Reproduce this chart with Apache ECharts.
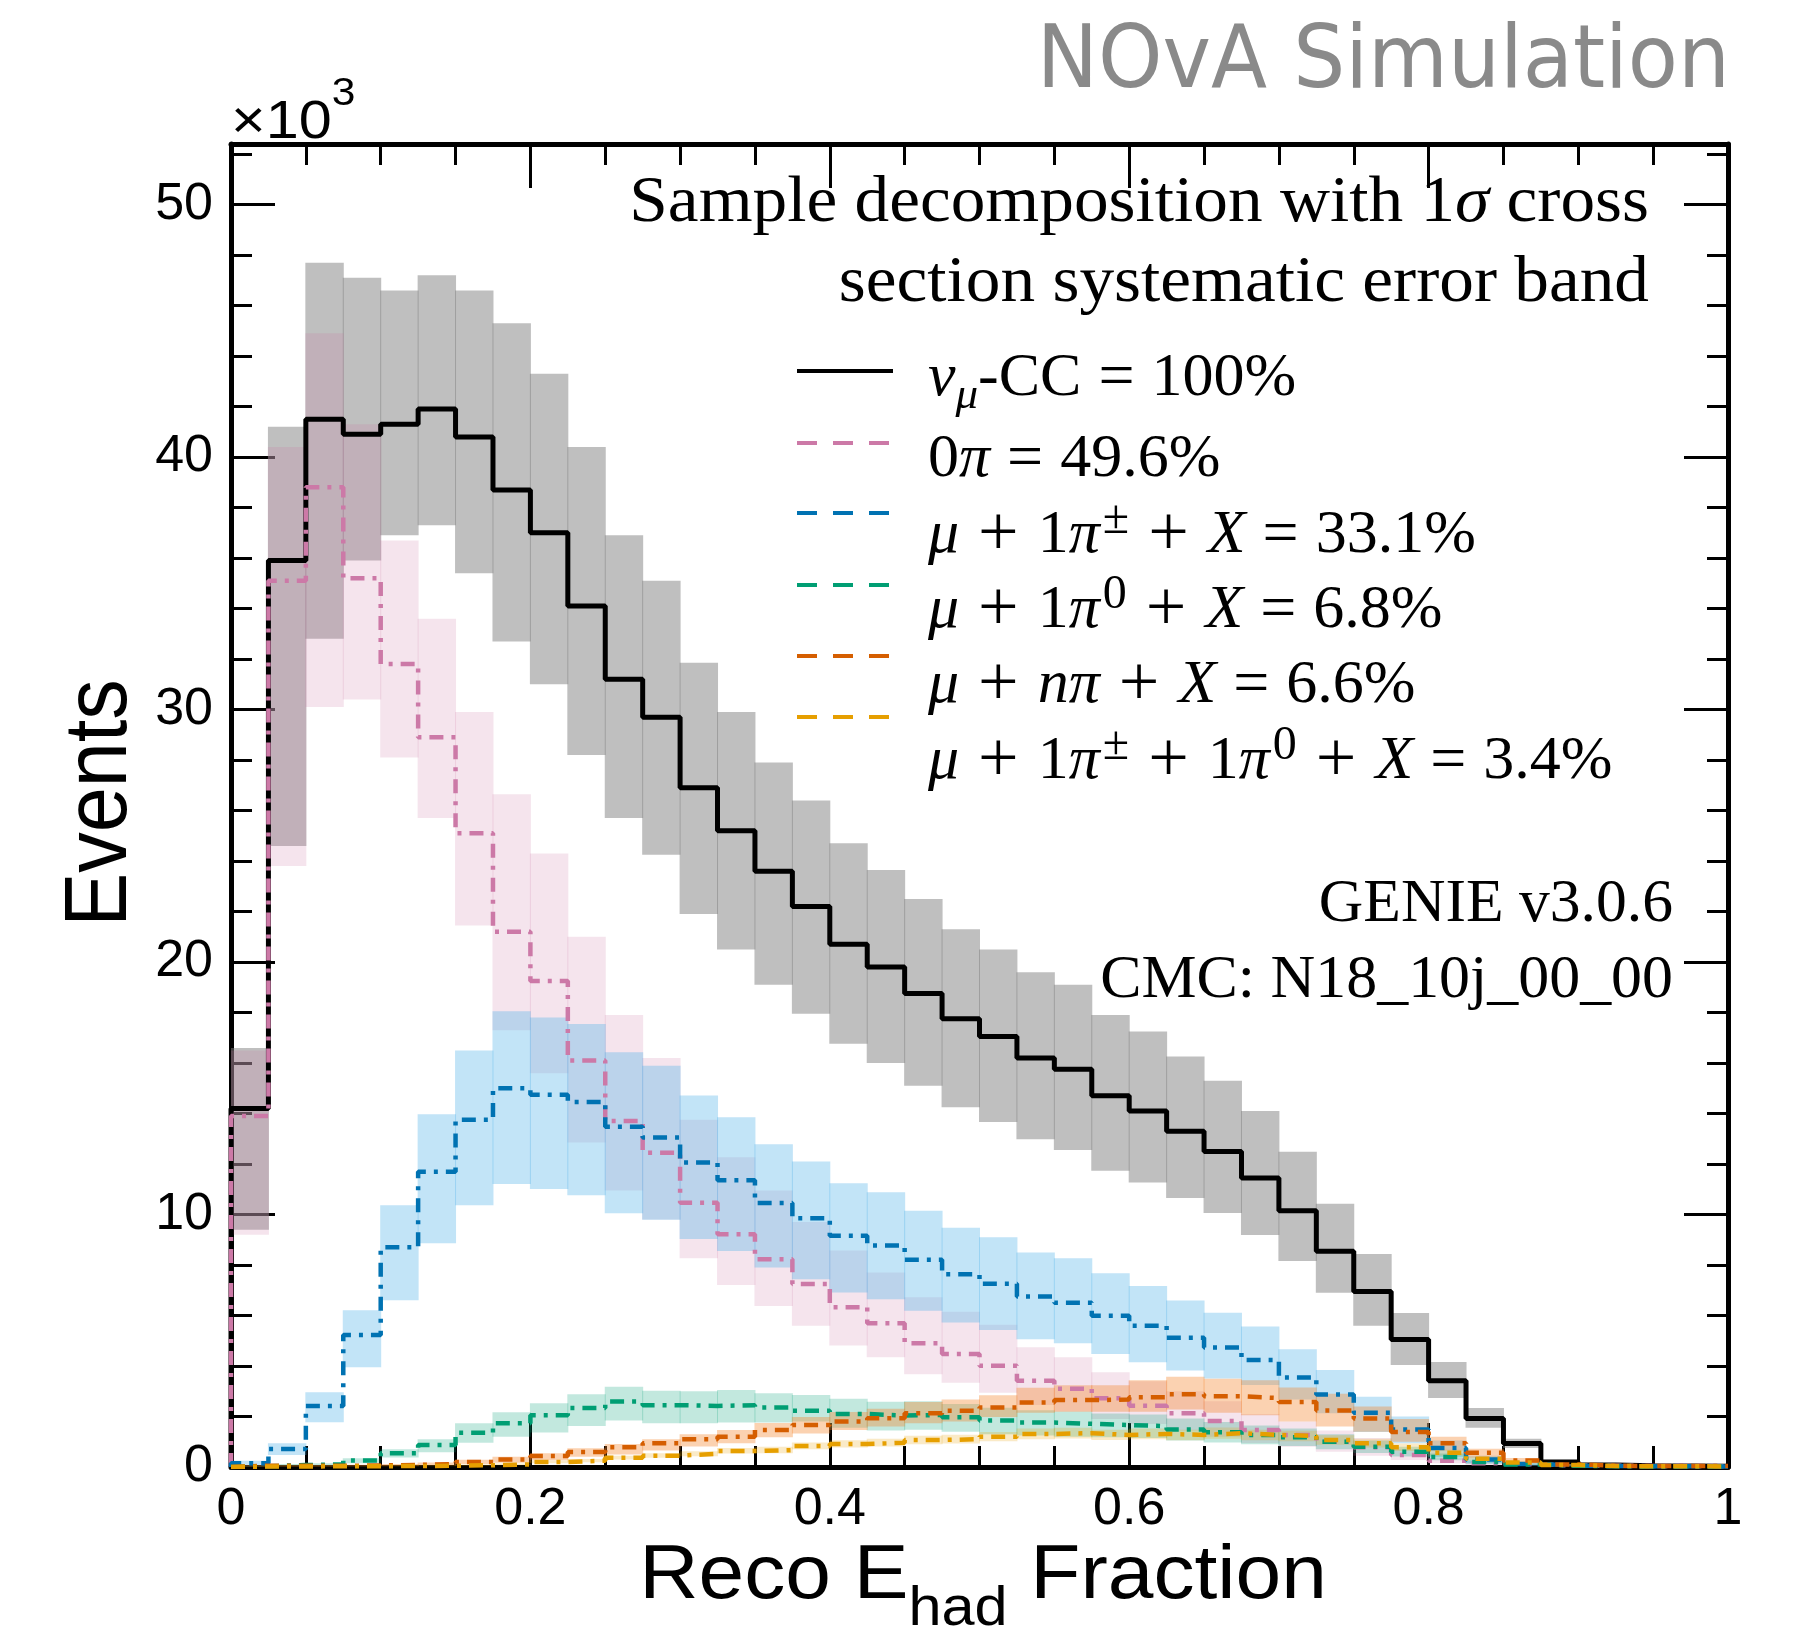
<!DOCTYPE html>
<html>
<head>
<meta charset="utf-8">
<script src="https://cdn.jsdelivr.net/npm/echarts@6/dist/echarts.min.js"></script>
<style>
  html, body { margin: 0; padding: 0; background: #fff; }
  #chart { width: 1805px; height: 1637px; }
</style>
</head>
<body>
<div id="chart"></div>
<script>
// 40 bins of width 0.025 on [0, 1], values in 10^3 events
var binWidth = 0.025;

// nu_mu CC total and its 1 sigma band
var totalVals = [14.2, 35.9, 41.5, 40.9, 41.3, 41.9, 40.8, 38.7, 37.0, 34.1, 31.2, 29.7, 26.9, 25.2, 23.6, 22.2, 20.7, 19.8, 18.75, 17.75, 17.05, 16.2, 15.75, 14.7, 14.1, 13.3, 12.5, 11.45, 10.15, 8.55, 6.95, 5.05, 3.42, 1.92, 0.93, 0.2, 0.08, 0.05, 0.04, 0.03];
var totalLo = [9.4, 24.6, 32.8, 35.9, 36.9, 37.3, 35.4, 32.7, 31.0, 28.2, 25.7, 24.25, 21.9, 20.5, 19.1, 17.95, 16.76, 16.0, 15.1, 14.25, 13.66, 12.98, 12.56, 11.73, 11.27, 10.65, 10.06, 9.19, 8.16, 6.9, 5.59, 4.04, 2.73, 1.55, 0.75, 0.15, 0.06, 0.03, 0.02, 0.02];
var totalHi = [16.6, 41.2, 47.7, 47.1, 46.6, 47.2, 46.6, 45.3, 43.3, 40.4, 36.9, 35.1, 31.85, 29.9, 27.9, 26.4, 24.7, 23.65, 22.5, 21.3, 20.5, 19.6, 19.1, 17.9, 17.25, 16.26, 15.3, 14.1, 12.49, 10.43, 8.44, 6.1, 4.16, 2.34, 1.12, 0.27, 0.1, 0.07, 0.06, 0.05];

// 0 pi
var zeroPiVals = [13.9, 35.1, 38.8, 35.2, 31.8, 28.9, 25.1, 21.2, 19.25, 16.1, 13.7, 12.45, 10.47, 9.22, 8.23, 7.25, 6.33, 5.69, 4.9, 4.48, 4.01, 3.42, 3.1, 2.72, 2.43, 2.13, 1.82, 1.47, 1.27, 1.0, 0.78, 0.48, 0.25, 0.15, 0.1, 0.06, 0.05, 0.04, 0.04, 0.03];
var zeroPiLo = [9.2, 23.8, 30.1, 30.4, 28.1, 25.7, 21.45, 17.3, 15.6, 12.85, 10.95, 9.8, 8.27, 7.21, 6.38, 5.59, 4.81, 4.35, 3.67, 3.34, 2.94, 2.46, 2.2, 1.9, 1.7, 1.45, 1.2, 0.95, 0.8, 0.6, 0.45, 0.28, 0.15, 0.08, 0.05, 0.03, 0.02, 0.02, 0.02, 0.01];
var zeroPiHi = [16.5, 40.4, 44.9, 41.3, 36.7, 33.6, 29.9, 26.65, 24.3, 21.0, 17.9, 16.2, 13.75, 12.27, 10.95, 9.7, 8.57, 7.7, 6.72, 6.15, 5.63, 4.74, 4.35, 3.75, 3.4, 3.0, 2.6, 2.1, 1.8, 1.45, 1.15, 0.7, 0.38, 0.23, 0.15, 0.09, 0.08, 0.07, 0.07, 0.05];

// mu + 1 pi+- + X
var piPmVals = [0.15, 0.71, 2.42, 5.23, 8.7, 11.69, 13.75, 15.0, 14.74, 14.46, 13.48, 13.05, 12.06, 11.36, 10.46, 9.85, 9.16, 8.77, 8.21, 7.63, 7.26, 6.75, 6.51, 5.99, 5.59, 5.12, 4.73, 4.24, 3.54, 2.87, 2.15, 1.49, 0.75, 0.3, 0.12, 0.05, 0.04, 0.03, 0.03, 0.02];
var piPmLo = [0.08, 0.48, 1.77, 3.95, 6.6, 8.86, 10.37, 11.21, 11.01, 10.76, 10.05, 9.79, 9.03, 8.56, 7.9, 7.44, 6.91, 6.64, 6.19, 5.72, 5.43, 5.06, 4.9, 4.48, 4.15, 3.82, 3.51, 3.25, 2.67, 2.13, 1.39, 0.94, 0.4, 0.15, 0.05, 0.02, 0.02, 0.01, 0.01, 0.01];
var piPmHi = [0.25, 0.94, 2.96, 6.21, 10.37, 13.97, 16.5, 18.05, 17.8, 17.55, 16.43, 15.89, 14.71, 13.85, 12.78, 12.1, 11.24, 10.88, 10.15, 9.48, 9.1, 8.5, 8.27, 7.67, 7.17, 6.59, 6.11, 5.56, 4.66, 3.84, 2.78, 2.0, 1.05, 0.45, 0.2, 0.09, 0.07, 0.05, 0.05, 0.04];

// mu + 1 pi0 + X
var pi0Vals = [0.03, 0.08, 0.1, 0.26, 0.54, 0.87, 1.36, 1.73, 2.05, 2.34, 2.59, 2.45, 2.42, 2.45, 2.36, 2.23, 2.1, 2.04, 2.06, 1.97, 1.84, 1.76, 1.71, 1.66, 1.62, 1.49, 1.38, 1.27, 1.18, 1.0, 0.8, 0.6, 0.4, 0.2, 0.1, 0.05, 0.03, 0.02, 0.02, 0.02];
var pi0Lo = [0.01, 0.05, 0.06, 0.15, 0.38, 0.58, 0.96, 1.2, 1.37, 1.62, 1.84, 1.73, 1.73, 1.76, 1.76, 1.8, 1.55, 1.45, 1.48, 1.4, 1.3, 1.25, 1.2, 1.18, 1.15, 1.05, 0.97, 0.9, 0.83, 0.7, 0.55, 0.42, 0.27, 0.13, 0.06, 0.03, 0.01, 0.01, 0.01, 0.01];
var pi0Hi = [0.05, 0.12, 0.15, 0.35, 0.7, 1.1, 1.73, 2.17, 2.52, 2.88, 3.18, 3.02, 3.0, 3.05, 2.92, 2.85, 2.7, 2.58, 2.6, 2.5, 2.35, 2.25, 2.2, 2.12, 2.08, 1.92, 1.78, 1.64, 1.52, 1.3, 1.05, 0.8, 0.53, 0.27, 0.14, 0.07, 0.04, 0.04, 0.04, 0.04];

// mu + n pi + X
var nPiVals = [0.05, 0.05, 0.05, 0.06, 0.08, 0.12, 0.2, 0.3, 0.44, 0.59, 0.78, 0.94, 1.1, 1.2, 1.47, 1.66, 1.8, 1.93, 2.13, 2.23, 2.36, 2.55, 2.65, 2.67, 2.76, 2.88, 2.8, 2.73, 2.57, 2.24, 1.92, 1.39, 0.94, 0.56, 0.26, 0.1, 0.05, 0.04, 0.04, 0.04];
var nPiLo = [0.02, 0.02, 0.02, 0.03, 0.04, 0.07, 0.12, 0.17, 0.27, 0.41, 0.5, 0.65, 0.81, 0.94, 1.18, 1.33, 1.47, 1.6, 1.73, 1.8, 1.98, 2.15, 2.19, 2.19, 2.19, 2.28, 2.15, 2.05, 1.8, 1.6, 1.4, 1.0, 0.65, 0.38, 0.16, 0.06, 0.02, 0.02, 0.02, 0.02];
var nPiHi = [0.08, 0.08, 0.08, 0.09, 0.12, 0.18, 0.29, 0.41, 0.54, 0.74, 0.91, 1.1, 1.3, 1.47, 1.74, 1.98, 2.18, 2.31, 2.57, 2.67, 2.84, 3.14, 3.24, 3.24, 3.44, 3.57, 3.5, 3.44, 3.15, 2.9, 2.4, 1.9, 1.2, 0.72, 0.36, 0.15, 0.07, 0.07, 0.07, 0.07];

// mu + 1 pi+- + 1 pi0 + X
var pmPi0Vals = [0.02, 0.02, 0.03, 0.03, 0.04, 0.05, 0.07, 0.1, 0.2, 0.25, 0.37, 0.45, 0.52, 0.63, 0.67, 0.83, 0.91, 0.96, 1.07, 1.1, 1.2, 1.31, 1.34, 1.27, 1.31, 1.27, 1.34, 1.27, 1.23, 1.07, 0.94, 0.78, 0.56, 0.33, 0.18, 0.08, 0.04, 0.03, 0.03, 0.02];
var pmPi0Lo = [0.01, 0.01, 0.02, 0.02, 0.02, 0.03, 0.04, 0.07, 0.15, 0.19, 0.3, 0.37, 0.43, 0.53, 0.54, 0.7, 0.77, 0.81, 0.9, 0.93, 1.02, 1.1, 1.13, 1.07, 1.1, 1.06, 1.12, 1.06, 1.02, 0.88, 0.77, 0.63, 0.45, 0.26, 0.14, 0.06, 0.02, 0.02, 0.02, 0.01];
var pmPi0Hi = [0.03, 0.03, 0.04, 0.04, 0.06, 0.07, 0.1, 0.14, 0.26, 0.32, 0.45, 0.54, 0.62, 0.75, 0.8, 0.97, 1.06, 1.12, 1.24, 1.28, 1.39, 1.52, 1.55, 1.48, 1.52, 1.48, 1.56, 1.48, 1.44, 1.26, 1.12, 0.93, 0.68, 0.4, 0.22, 0.1, 0.06, 0.04, 0.04, 0.03];

var yTickLabels = [0, 10, 20, 30, 40, 50];

var SERIF = "'Liberation Serif', 'Times New Roman', serif";
var SANS = "'Liberation Sans', Arial, Helvetica, sans-serif";
var dashDot = [14, 8, 4, 8];

// histogram outline: rise from 0 at x=0, hold each bin, end at x=1
function stepData(vals) {
  var d = [[0, 0]];
  for (var i = 0; i < vals.length; i++) d.push([i * binWidth, vals[i]]);
  d.push([1, vals[vals.length - 1]]);
  return d;
}

function histLine(name, vals, color, width, dash, z) {
  return {
    name: name, type: 'line', step: 'end', data: stepData(vals),
    showSymbol: false, silent: true, z: z,
    lineStyle: { color: color, width: width, type: dash }
  };
}

function band(name, lo, hi, fill, z) {
  var data = lo.map(function (l, i) { return [i * binWidth, (i + 1) * binWidth, l, hi[i]]; });
  return {
    name: name, type: 'custom', data: data, z: z, silent: true, clip: true,
    encode: { x: [0, 1], y: [2, 3] },
    renderItem: function (params, api) {
      var p0 = api.coord([api.value(0), api.value(3)]);
      var p1 = api.coord([api.value(1), api.value(2)]);
      return {
        type: 'rect',
        shape: { x: p0[0] - 0.5, y: p0[1], width: p1[0] - p0[0] + 1, height: p1[1] - p0[1] },
        style: { fill: fill }
      };
    }
  };
}

function xAx(pos, major) {
  return {
    type: 'value', min: 0, max: 1, interval: major ? 0.2 : 0.05, position: pos,
    axisLine: { show: major, onZero: false, lineStyle: { color: '#000', width: 5 } },
    axisTick: { show: true, inside: true, length: major ? 44 : 21, lineStyle: { color: '#000', width: 3 } },
    axisLabel: { show: major && pos === 'bottom', margin: 17, color: '#000', fontSize: 52, fontFamily: SANS },
    splitLine: { show: false }
  };
}

function yAx(pos, major) {
  return {
    type: 'value', min: 0, max: 52.4, interval: major ? 10 : 2, position: pos,
    axisLine: { show: major, onZero: false, lineStyle: { color: '#000', width: 5 } },
    axisTick: { show: true, inside: true, length: major ? 44 : 21, lineStyle: { color: '#000', width: 3 } },
    axisLabel: {
      show: major && pos === 'left', margin: 18, color: '#000', fontSize: 52, fontFamily: SANS,
      showMaxLabel: false,
      formatter: function (v) { return yTickLabels.indexOf(v) >= 0 ? String(v) : ''; }
    },
    splitLine: { show: false }
  };
}

var richSerif = {
  r: { fontFamily: SERIF, fontSize: 62, lineHeight: 80, fill: '#000' },
  i: { fontFamily: SERIF, fontSize: 62, fontStyle: 'italic', lineHeight: 80, fill: '#000' },
  op: { fontFamily: SERIF, fontSize: 72, lineHeight: 80, padding: [0, 19, 0, 19], fill: '#000' },
  eq: { fontFamily: SERIF, fontSize: 64, lineHeight: 80, padding: [0, 17, 0, 17], fill: '#000' },
  sup: { fontFamily: SERIF, fontSize: 48, lineHeight: 46, verticalAlign: 'top', padding: [0, 0, 0, 3], fill: '#000' },
  sub: { fontFamily: SERIF, fontSize: 45, fontStyle: 'italic', lineHeight: 56, verticalAlign: 'bottom', fill: '#000' }
};

function serifText(x, y, text, align, size, sx) {
  var rich = JSON.parse(JSON.stringify(richSerif));
  if (size) { rich.r.fontSize = size; rich.i.fontSize = size; }
  return {
    type: 'text', x: x, y: y, z: 100, scaleX: sx || 1,
    style: { text: text, align: align, verticalAlign: 'middle', rich: rich }
  };
}

var legendRows = [
  { color: '#000000', solid: true, lineY: 371, textY: 379, text: '{i|ν}{sub|μ}{r|-CC}{eq|=}{r|100%}' },
  { color: '#CC79A7', lineY: 443, textY: 460, text: '{r|0}{i|π}{eq|=}{r|49.6%}' },
  { color: '#0072B2', lineY: 513, textY: 536, text: '{i|μ}{op|+}{r|1}{i|π}{sup|±}{op|+}{i|X}{eq|=}{r|33.1%}' },
  { color: '#009E73', lineY: 585, textY: 611, text: '{i|μ}{op|+}{r|1}{i|π}{sup|0}{op|+}{i|X}{eq|=}{r|6.8%}' },
  { color: '#D55E00', lineY: 656, textY: 686, text: '{i|μ}{op|+}{i|nπ}{op|+}{i|X}{eq|=}{r|6.6%}' },
  { color: '#E69F00', lineY: 717, textY: 762, text: '{i|μ}{op|+}{r|1}{i|π}{sup|±}{op|+}{r|1}{i|π}{sup|0}{op|+}{i|X}{eq|=}{r|3.4%}' }
];

var graphics = [];
legendRows.forEach(function (row) {
  graphics.push({
    type: 'line', z: 100,
    shape: { x1: 797, y1: row.lineY, x2: 893, y2: row.lineY },
    style: { stroke: row.color, lineWidth: 4, lineDash: row.solid ? null : [20, 16] }
  });
  graphics.push(serifText(928, row.textY, row.text, 'left'));
});

graphics.push(serifText(1649, 204, '{r|Sample decomposition with 1}{i|σ}{r| cross}', 'right', 66, 1.05));
graphics.push(serifText(1649, 284, '{r|section systematic error band}', 'right', 66, 1.05));
graphics.push(serifText(1673, 905, '{r|GENIE v3.0.6}', 'right', 61, 1.01));
graphics.push(serifText(1673, 981, '{r|CMC: N18_10j_00_00}', 'right', 61, 1.015));

graphics.push({
  type: 'text', x: 1730, y: 64, z: 100, scaleY: 1.06,
  style: { text: 'NOvA Simulation', fontFamily: "'DejaVu Sans', sans-serif", fontSize: 82, fill: '#8a8a8a', align: 'right', verticalAlign: 'middle' }
});

graphics.push({
  type: 'text', x: 231, y: 123, z: 100, scaleX: 1.12,
  style: {
    text: '{r|×10}{sup|3}', align: 'left', verticalAlign: 'middle',
    rich: {
      r: { fontFamily: SANS, fontSize: 53, lineHeight: 94, fill: '#000' },
      sup: { fontFamily: SANS, fontSize: 38, lineHeight: 40, verticalAlign: 'top', fill: '#000' }
    }
  }
});

graphics.push({
  type: 'text', x: 101, y: 803, z: 100, rotation: Math.PI / 2, scaleY: 1.1,
  style: { text: 'Events', fontFamily: SANS, fontSize: 81, fill: '#000', align: 'center', verticalAlign: 'middle' }
});

graphics.push({
  type: 'text', x: 983, y: 1577, z: 100, scaleX: 1.08,
  style: {
    text: '{r|Reco E}{sub|had}{r| Fraction}', align: 'center', verticalAlign: 'middle',
    rich: {
      r: { fontFamily: SANS, fontSize: 76, lineHeight: 120, fill: '#000' },
      sub: { fontFamily: SANS, fontSize: 55, lineHeight: 48, verticalAlign: 'bottom', fill: '#000' }
    }
  }
});

var chart = echarts.init(document.getElementById('chart'), null, { renderer: 'canvas' });
chart.setOption({
  animation: false,
  backgroundColor: '#ffffff',
  grid: { left: 231, right: 77, top: 144, bottom: 170, containLabel: false },
  xAxis: [xAx('bottom', true), xAx('bottom', false), xAx('top', true), xAx('top', false)],
  yAxis: [yAx('left', true), yAx('left', false), yAx('right', true), yAx('right', false)],
  series: [
    band('total band', totalLo, totalHi, 'rgba(128,128,128,0.5)', 1),
    band('0pi band', zeroPiLo, zeroPiHi, 'rgba(204,121,167,0.2)', 2),
    band('1pipm band', piPmLo, piPmHi, 'rgba(86,180,233,0.36)', 3),
    band('1pi0 band', pi0Lo, pi0Hi, 'rgba(0,158,115,0.24)', 4),
    band('npi band', nPiLo, nPiHi, 'rgba(245,130,40,0.36)', 5),
    band('pmpi0 band', pmPi0Lo, pmPi0Hi, 'rgba(230,159,0,0.22)', 6),
    histLine('total', totalVals, '#000000', 5, 'solid', 10),
    histLine('0pi', zeroPiVals, '#CC79A7', 4.5, dashDot, 11),
    histLine('1pipm', piPmVals, '#0072B2', 4.5, dashDot, 12),
    histLine('1pi0', pi0Vals, '#009E73', 4.5, dashDot, 13),
    histLine('npi', nPiVals, '#D55E00', 4.5, dashDot, 14),
    histLine('pmpi0', pmPi0Vals, '#E69F00', 4.5, dashDot, 15)
  ],
  graphic: graphics
});
window.onresize = function () { chart.resize(); };
</script>
</body>
</html>
